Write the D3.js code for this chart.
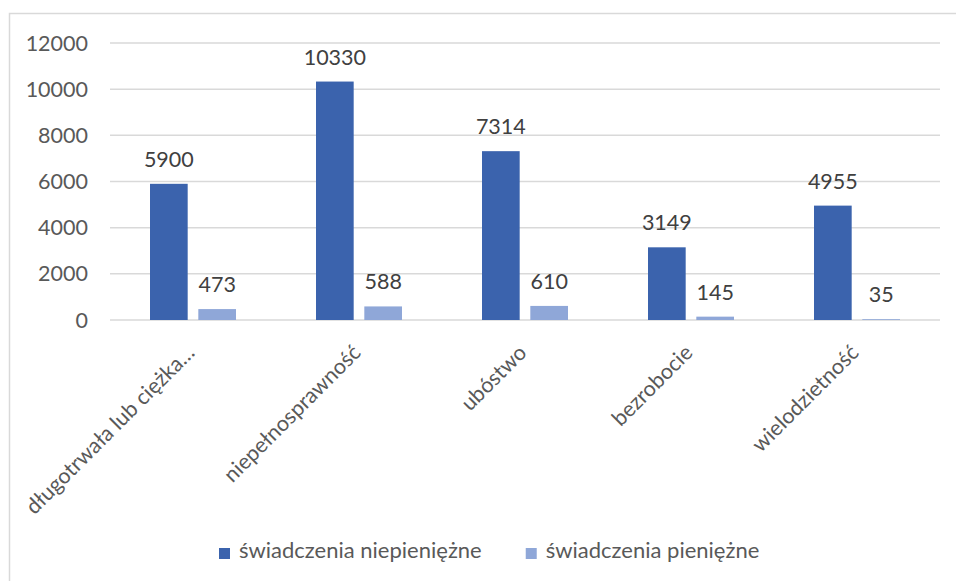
<!DOCTYPE html>
<html>
<head>
<meta charset="utf-8">
<script src="https://cdn.jsdelivr.net/npm/d3@7"></script>
<style>
  body { margin: 0; background: #fff; }
  text { font-family: Lato, "Open Sans", sans-serif; }
</style>
</head>
<body>
<svg id="chart"></svg>
<script>
const categories = ["długotrwała lub ciężka…", "niepełnosprawność", "ubóstwo", "bezrobocie", "wielodzietność"];
const seriesNames = ["świadczenia niepieniężne", "świadczenia pieniężne"];
const niepieniezne = [5900, 10330, 7314, 3149, 4955];
const pieniezne = [473, 588, 610, 145, 35];
const yTicks = [0, 2000, 4000, 6000, 8000, 10000, 12000];

const colors = ["#3b63ad", "#8fa7d8"];
const width = 956;
const height = 581;
const fontSize = 21.5;

const svg = d3.select("#chart").attr("width", width).attr("height", height);

// chart frame
svg.append("rect")
  .attr("x", 9.5).attr("y", 13.5)
  .attr("width", 970).attr("height", 600)
  .attr("fill", "#fff")
  .attr("stroke", "#d9d9d9")
  .attr("stroke-width", 1.5);

const x = d3.scaleBand().domain(categories).range([110, 940]);
const xInner = d3.scaleBand().domain(seriesNames).range([40, 126]).paddingInner(0.22);
const y = d3.scaleLinear().domain([0, 12000]).range([320, 43]);

// gridlines
svg.append("g")
  .selectAll("line")
  .data(yTicks)
  .join("line")
  .attr("x1", 110).attr("x2", 940)
  .attr("y1", d => y(d)).attr("y2", d => y(d))
  .attr("stroke", "#d9d9d9")
  .attr("stroke-width", 1.5);

// y axis labels
svg.append("g")
  .selectAll("text")
  .data(yTicks)
  .join("text")
  .attr("x", 88)
  .attr("y", d => y(d))
  .attr("dy", "0.35em")
  .attr("text-anchor", "end")
  .attr("font-size", fontSize)
  .attr("fill", "#595959")
  .text(d => d);

const rows = categories.map((c, i) => ({ cat: c, values: [niepieniezne[i], pieniezne[i]] }));

const groups = svg.append("g")
  .selectAll("g")
  .data(rows)
  .join("g")
  .attr("transform", d => `translate(${x(d.cat)},0)`);

groups.selectAll("rect")
  .data(d => d.values.map((v, j) => ({ v, s: seriesNames[j], j })))
  .join("rect")
  .attr("x", d => xInner(d.s))
  .attr("width", xInner.bandwidth())
  .attr("y", d => y(d.v))
  .attr("height", d => y(0) - y(d.v))
  .attr("fill", d => colors[d.j]);

// value labels
groups.selectAll("text")
  .data(d => d.values.map((v, j) => ({ v, s: seriesNames[j], j })))
  .join("text")
  .attr("x", d => xInner(d.s) + xInner.bandwidth() / 2)
  .attr("y", d => y(d.v) - 17)
  .attr("text-anchor", "middle")
  .attr("font-size", fontSize)
  .attr("fill", "#404040")
  .text(d => d.v);

// category labels, rotated
svg.append("g")
  .selectAll("text")
  .data(categories)
  .join("text")
  .attr("transform", d => `translate(${x(d) + x.bandwidth() / 2 + 3},354) rotate(-45)`)
  .attr("text-anchor", "end")
  .attr("font-size", fontSize)
  .attr("fill", "#595959")
  .text(d => d);

// legend
const legend = svg.append("g");
let lx = 219;
seriesNames.forEach((name, i) => {
  legend.append("rect")
    .attr("x", lx).attr("y", 548)
    .attr("width", 11).attr("height", 11)
    .attr("fill", colors[i]);
  const t = legend.append("text")
    .attr("x", lx + 20).attr("y", 558)
    .attr("font-size", 22)
    .attr("fill", "#595959")
    .text(name);
  lx += 20 + t.node().getComputedTextLength() + 44;
});
</script>
</body>
</html>
